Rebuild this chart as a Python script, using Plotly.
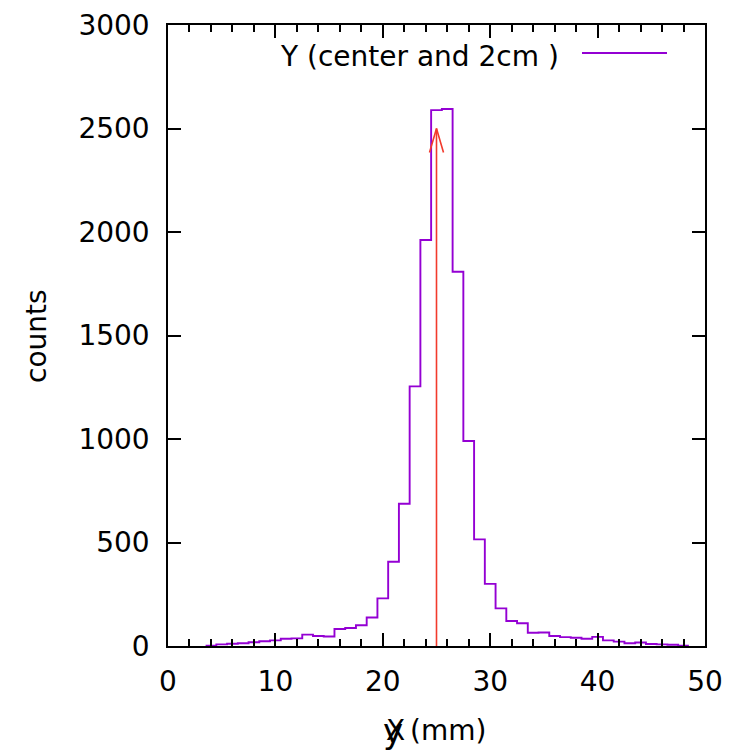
import plotly.graph_objects as go

# ---- data ----
bin_centers = list(range(4, 49))  # mm
counts = [2, 8, 11, 13, 18, 23, 27, 35, 37, 55, 48, 46, 82, 87, 100, 138, 230, 407,
          687, 1254, 1961, 2589, 2594, 1808, 990, 515, 300, 182, 121, 110, 64, 65,
          48, 43, 40, 35, 44, 27, 21, 13, 17, 10, 8, 6, 2]
bin_width = 1.0
arrow_x = 25
arrow_y0 = 0
arrow_y1 = 2500
series_name = "Y (center and 2cm )"
x_ticks = [0, 10, 20, 30, 40, 50]
y_ticks = [0, 500, 1000, 1500, 2000, 2500, 3000]

# ---- layout constants ----
W, H = 731, 754
OFF = 8  # browser body margin
ML, MR, MT, MB = 160, 34, 17, 116
PW, PH = W - ML - MR, H - MT - MB
FONT = "DejaVu Sans"
FS = 28
PURPLE = "#9400d3"
RED = "#f23a2c"

x_edges = [c - bin_width / 2 for c in bin_centers] + [bin_centers[-1] + bin_width / 2]
y_steps = counts + [counts[-1]]

xr = [x_ticks[0], x_ticks[-1]]
yr = [y_ticks[0], y_ticks[-1]]
ux = PW / (xr[1] - xr[0])  # px per unit
uy = PH / (yr[1] - yr[0])

fig = go.Figure()
fig.add_trace(go.Scatter(x=x_edges, y=y_steps, mode="lines", line_shape="hv",
                         line=dict(color=PURPLE, width=1.9), showlegend=False,
                         name=series_name))
# arrow shaft
fig.add_trace(go.Scatter(x=[arrow_x, arrow_x], y=[arrow_y0, arrow_y1], mode="lines",
                         line=dict(color=RED, width=1.6), showlegend=False))
# arrow head (open V), size given in pixels
head_len_px, head_half_px = 24, 7
fig.add_trace(go.Scatter(
    x=[arrow_x - head_half_px / ux, arrow_x, arrow_x + head_half_px / ux],
    y=[arrow_y1 - head_len_px / uy, arrow_y1, arrow_y1 - head_len_px / uy],
    mode="lines", line=dict(color=RED, width=1.6), showlegend=False))

axis_common = dict(showgrid=False, zeroline=False, showline=True, linecolor="black",
                   linewidth=1.5, mirror="ticks", ticks="inside", tickcolor="black",
                   tickwidth=1.5, automargin=False,
                   tickfont=dict(family=FONT, size=FS, color="black"))

fig.update_xaxes(range=xr, tickvals=x_ticks, ticklen=13,
                 minor=dict(dtick=2, ticks="inside", ticklen=7, tickcolor="black",
                            tickwidth=1.5, showgrid=False),
                 ticklabelstandoff=10, **axis_common)
fig.update_yaxes(range=yr, tickvals=y_ticks, ticklen=13, ticklabelstandoff=11,
                 **axis_common)

def px_x(p):  # page pixel -> paper x
    return (p - OFF - ML) / PW

def px_y(p):  # page pixel -> paper y
    return (H - MB - (p - OFF)) / PH

tf = dict(family=FONT, size=FS, color="black")
annotations = [
    dict(text="counts", textangle=-90, xref="paper", yref="paper",
         x=px_x(36), y=px_y(336), showarrow=False, font=tf,
         xanchor="center", yanchor="middle"),
    dict(text="X", xref="paper", yref="paper", x=px_x(395), y=px_y(730),
         showarrow=False, font=tf, xanchor="center", yanchor="middle"),
    dict(text="y", xref="paper", yref="paper", x=px_x(393), y=px_y(731),
         showarrow=False, font=dict(family=FONT, size=34, color="black"),
         xanchor="center", yanchor="middle"),
    dict(text="(mm)", xref="paper", yref="paper", x=px_x(408), y=px_y(730),
         showarrow=False, font=tf, xanchor="left", yanchor="middle"),
    dict(text=series_name, xref="paper", yref="paper", x=px_x(561), y=px_y(56),
         showarrow=False, font=tf, xanchor="right", yanchor="middle"),
]

shapes = [dict(type="line", xref="paper", yref="paper", x0=px_x(582), x1=px_x(667),
               y0=px_y(53), y1=px_y(53), line=dict(color=PURPLE, width=1.8))]

fig.update_layout(width=W, height=H, margin=dict(l=ML, r=MR, t=MT, b=MB),
                  plot_bgcolor="white", paper_bgcolor="white",
                  annotations=annotations, shapes=shapes, showlegend=False,
                  font=tf)

fig.write_html("out.html")
